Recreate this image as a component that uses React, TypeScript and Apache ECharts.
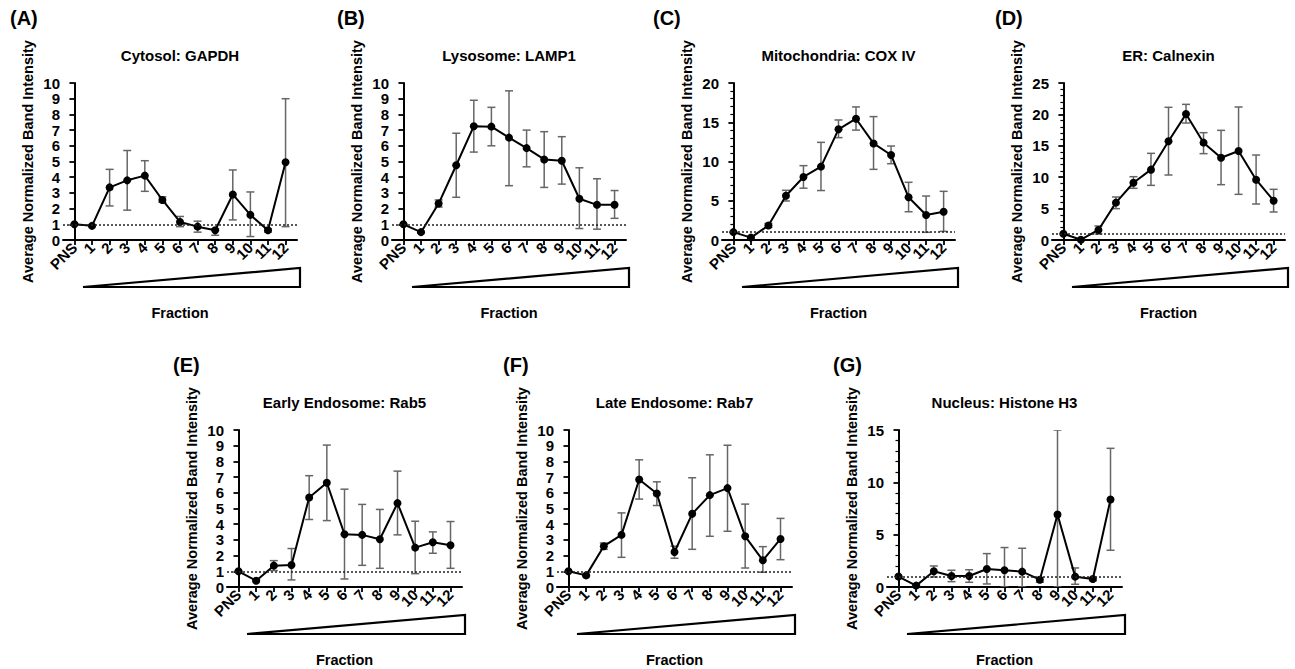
import React, { useEffect, useRef } from "react";
import * as echarts from "echarts";

const fractions = ["PNS", "1", "2", "3", "4", "5", "6", "7", "8", "9", "10", "11", "12"];

// (A) Cytosol: GAPDH
const gapdhMean = [1.0, 0.9, 3.35, 3.8, 4.1, 2.55, 1.15, 0.85, 0.62, 2.9, 1.6, 0.62, 4.95];
const gapdhLow = [1.0, 0.85, 2.17, 1.9, 3.1, 2.4, 0.85, 0.5, 0.3, 1.28, 0.22, 0.5, 0.85];
const gapdhHigh = [1.0, 0.95, 4.5, 5.7, 5.05, 2.75, 1.5, 1.2, 0.72, 4.46, 3.06, 0.72, 9.0];

// (B) Lysosome: LAMP1
const lamp1Mean = [1.0, 0.5, 2.32, 4.76, 7.25, 7.22, 6.52, 5.85, 5.13, 5.05, 2.63, 2.24, 2.25];
const lamp1Low = [1.0, 0.45, 2.1, 2.72, 5.6, 6.0, 3.46, 4.66, 3.35, 3.56, 0.73, 0.69, 1.38];
const lamp1High = [1.0, 0.55, 2.55, 6.8, 8.9, 8.45, 9.5, 7.0, 6.9, 6.58, 4.6, 3.9, 3.15];

// (C) Mitochondria: COX IV
const coxMean = [1.0, 0.3, 1.85, 5.63, 8.03, 9.35, 14.1, 15.45, 12.3, 10.83, 5.44, 3.18, 3.6];
const coxLow = [1.0, 0.2, 1.6, 4.97, 6.6, 6.3, 13.04, 14.0, 9.0, 9.72, 3.6, 0.98, 1.1];
const coxHigh = [1.0, 0.4, 2.1, 6.33, 9.47, 12.44, 15.29, 16.95, 15.72, 11.97, 7.35, 5.6, 6.2];

// (D) ER: Calnexin
const calnexinMean = [1.0, 0.05, 1.6, 5.95, 9.12, 11.2, 15.72, 20.05, 15.5, 13.1, 14.17, 9.6, 6.26];
const calnexinLow = [1.0, 0.0, 0.95, 4.99, 8.23, 8.7, 10.35, 18.63, 13.75, 8.81, 7.27, 5.73, 4.46];
const calnexinHigh = [1.0, 0.1, 2.23, 6.85, 10.08, 13.8, 21.13, 21.6, 17.09, 17.46, 21.18, 13.53, 8.07];

// (E) Early Endosome: Rab5
const rab5Mean = [1.0, 0.4, 1.36, 1.4, 5.7, 6.64, 3.36, 3.32, 3.04, 5.34, 2.51, 2.85, 2.66];
const rab5Low = [1.0, 0.35, 1.05, 0.45, 4.3, 4.23, 0.51, 1.38, 1.19, 3.32, 0.85, 2.15, 1.19];
const rab5High = [1.0, 0.45, 1.68, 2.45, 7.09, 9.04, 6.23, 5.26, 4.94, 7.38, 4.19, 3.51, 4.17];

// (F) Late Endosome: Rab7
const rab7Mean = [1.0, 0.74, 2.6, 3.32, 6.85, 5.96, 2.23, 4.66, 5.85, 6.3, 3.23, 1.7, 3.06];
const rab7Low = [1.0, 0.7, 2.4, 1.89, 5.6, 5.19, 1.83, 2.4, 3.23, 3.55, 1.21, 0.94, 1.74];
const rab7High = [1.0, 0.8, 2.8, 4.72, 8.1, 6.7, 2.6, 6.96, 8.42, 9.03, 5.28, 2.57, 4.37];

// (G) Nucleus: Histone H3
const h3Mean = [1.0, 0.13, 1.5, 1.05, 1.05, 1.72, 1.6, 1.47, 0.7, 6.93, 0.99, 0.77, 8.36];
const h3Low = [1.0, 0.1, 0.95, 0.51, 0.45, 0.29, 0.0, 0.0, 0.45, 0.0, 0.26, 0.6, 3.51];
const h3High = [1.0, 0.2, 2.01, 1.6, 1.65, 3.19, 3.77, 3.7, 0.9, 15.0, 1.82, 0.9, 13.25];

const panels = [
  { letter: "(A)", title: "Cytosol: GAPDH", mean: gapdhMean, low: gapdhLow, high: gapdhHigh, yMax: 10, yInt: 1, minor: false, left: 63, top: 83, width: 234, letterX: 10 },
  { letter: "(B)", title: "Lysosome: LAMP1", mean: lamp1Mean, low: lamp1Low, high: lamp1High, yMax: 10, yInt: 1, minor: false, left: 392, top: 83, width: 234, letterX: 337 },
  { letter: "(C)", title: "Mitochondria: COX IV", mean: coxMean, low: coxLow, high: coxHigh, yMax: 20, yInt: 5, minor: true, left: 722, top: 83, width: 233, letterX: 653 },
  { letter: "(D)", title: "ER: Calnexin", mean: calnexinMean, low: calnexinLow, high: calnexinHigh, yMax: 25, yInt: 5, minor: true, left: 1052, top: 83, width: 233, letterX: 995 },
  { letter: "(E)", title: "Early Endosome: Rab5", mean: rab5Mean, low: rab5Low, high: rab5High, yMax: 10, yInt: 1, minor: false, left: 227, top: 430, width: 235, letterX: 173 },
  { letter: "(F)", title: "Late Endosome: Rab7", mean: rab7Mean, low: rab7Low, high: rab7High, yMax: 10, yInt: 1, minor: false, left: 557, top: 430, width: 235, letterX: 503 },
  { letter: "(G)", title: "Nucleus: Histone H3", mean: h3Mean, low: h3Low, high: h3High, yMax: 15, yInt: 5, minor: true, left: 887, top: 430, width: 235, letterX: 833 },
];

const FONT = "'Liberation Sans', Arial, Helvetica, sans-serif";
const PH = 157;
const X_MIN = -0.65;
const X_MAX = 12.65;

export default function App() {
  const ref = useRef<HTMLDivElement>(null);
  useEffect(() => {
    if (!ref.current) return;
    const chart = echarts.init(ref.current, null, { renderer: "svg" });
    const idx = fractions.map((_, i) => i);
    const labelValues = [X_MIN, ...idx, X_MAX];
    const grids: any[] = [];
    const xAxes: any[] = [];
    const yAxes: any[] = [];
    const series: any[] = [];
    const graphics: any[] = [];
    panels.forEach((p, k) => {
      grids.push({ left: p.left, top: p.top, width: p.width, height: PH, containLabel: false });
      xAxes.push({
        type: "value",
        gridIndex: k,
        min: X_MIN,
        max: X_MAX,
        name: "Fraction",
        nameLocation: "middle",
        nameGap: 65,
        nameTextStyle: { fontFamily: FONT, fontWeight: "bold", fontSize: 14.5, color: "#000" },
        splitLine: { show: false },
        axisLine: { show: true, lineStyle: { color: "#000", width: 2 } },
        axisTick: { show: true, customValues: idx, length: 5, lineStyle: { color: "#000", width: 1.8 } },
        axisLabel: {
          customValues: labelValues,
          hideOverlap: false,
          rotate: 45,
          margin: 5,
          fontFamily: FONT,
          fontWeight: "bold",
          fontSize: 15,
          color: "#000",
          formatter: (v: number) => (Number.isInteger(v) ? fractions[v] ?? "" : ""),
        },
      });
      yAxes.push({
        type: "value",
        gridIndex: k,
        min: 0,
        max: p.yMax,
        interval: p.yInt,
        name: "Average Normalized Band Intensity",
        nameLocation: "middle",
        nameGap: 28,
        nameTextStyle: { fontFamily: FONT, fontWeight: "bold", fontSize: 14.5, color: "#000" },
        splitLine: { show: false },
        axisLine: { show: true, lineStyle: { color: "#000", width: 2 } },
        axisTick: { show: true, length: 5, lineStyle: { color: "#000", width: 1.8 } },
        minorTick: { show: p.minor, splitNumber: 5, length: 3, lineStyle: { color: "#000", width: 1.2 } },
        axisLabel: { margin: 3, fontFamily: FONT, fontWeight: "bold", fontSize: 15, color: "#000" },
      });
      series.push({
        type: "custom",
        xAxisIndex: k,
        yAxisIndex: k,
        z: 2,
        clip: true,
        data: idx.map((i) => [i, p.low[i], p.high[i]]),
        encode: { x: 0, y: [1, 2] },
        renderItem: (_params: any, api: any) => {
          const x = api.value(0);
          const lo = api.coord([x, api.value(1)]);
          const hi = api.coord([x, api.value(2)]);
          const hw = 4;
          const st = { stroke: "#666", lineWidth: 1.5 };
          return {
            type: "group",
            children: [
              { type: "line", shape: { x1: lo[0], y1: lo[1], x2: hi[0], y2: hi[1] }, style: st },
              { type: "line", shape: { x1: lo[0] - hw, y1: lo[1], x2: lo[0] + hw, y2: lo[1] }, style: st },
              { type: "line", shape: { x1: hi[0] - hw, y1: hi[1], x2: hi[0] + hw, y2: hi[1] }, style: st },
            ],
          };
        },
      });
      series.push({
        type: "line",
        xAxisIndex: k,
        yAxisIndex: k,
        z: 3,
        data: idx.map((i) => [i, p.mean[i]]),
        symbol: "circle",
        symbolSize: 8,
        itemStyle: { color: "#000" },
        lineStyle: { color: "#000", width: 2 },
        markLine: {
          silent: true,
          symbol: ["none", "none"],
          label: { show: false },
          lineStyle: { color: "#222", type: [2, 2], width: 1.5 },
          data: [{ yAxis: 1 }],
        },
      });
      const cx = p.left + p.width / 2;
      graphics.push({
        type: "text",
        x: cx,
        y: p.top - 28,
        style: { text: p.title, fontFamily: FONT, fontWeight: "bold", fontSize: 15, fill: "#000", textAlign: "center", textVerticalAlign: "middle" },
      });
      graphics.push({
        type: "text",
        x: p.letterX,
        y: p.top - 65,
        style: { text: p.letter, fontFamily: FONT, fontWeight: "bold", fontSize: 20, fill: "#000", textAlign: "left", textVerticalAlign: "middle" },
      });
      const by = p.top + PH + 47;
      const ty = p.top + PH + 28;
      const x0 = p.left + 20;
      const x1 = p.left + p.width + 3;
      graphics.push({
        type: "polygon",
        shape: { points: [[x0, by], [x1, ty], [x1, by]] },
        style: { fill: "#fff", stroke: "#000", lineWidth: 2.2, lineJoin: "miter" },
      });
    });
    chart.setOption({
      animation: false,
      backgroundColor: "#fff",
      grid: grids,
      xAxis: xAxes,
      yAxis: yAxes,
      series,
      graphic: graphics,
    });
    return () => chart.dispose();
  }, []);
  return <div ref={ref} style={{ position: "fixed", left: 0, top: 0, width: 1295, height: 669 }} />;
}
